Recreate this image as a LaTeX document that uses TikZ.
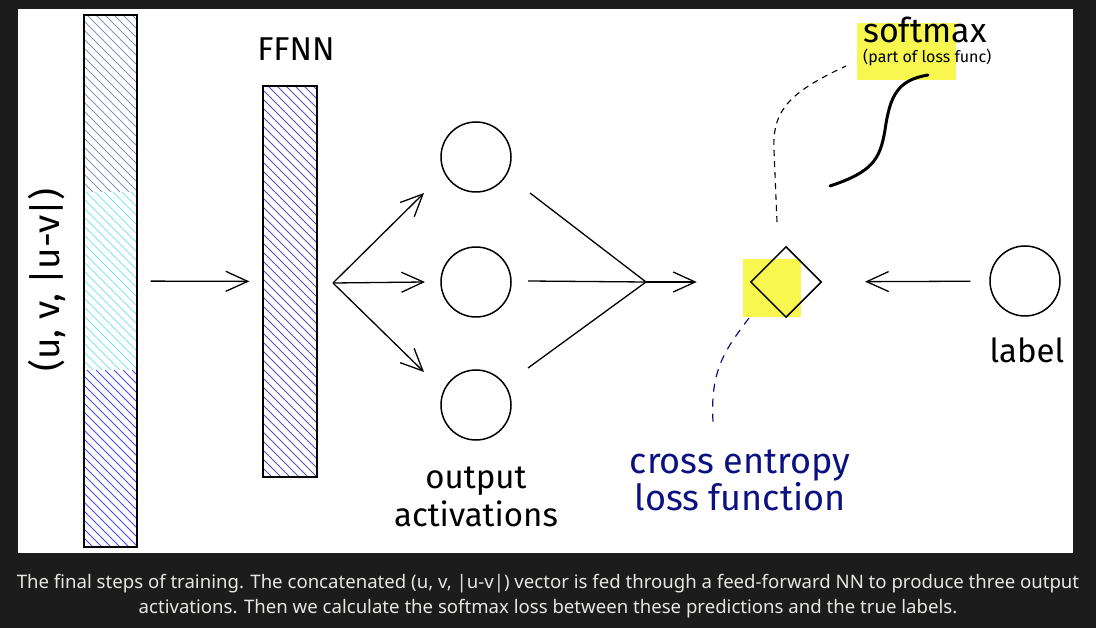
\documentclass[tikz,border=0pt]{standalone}
\usepackage{fontspec}
\setmainfont{Fira Sans}
\newfontfamily\capfont{Noto Sans}
\usetikzlibrary{arrows.meta,shapes.geometric}
\definecolor{bgdark}{HTML}{1C1C1C}
\definecolor{captext}{HTML}{E8E6E3}
\definecolor{hlyellow}{HTML}{F7F74F}
\definecolor{hatchgray}{HTML}{8294B8}
\definecolor{hatchcyan}{HTML}{80E6EE}
\definecolor{hatchblue}{HTML}{4A4AF0}
\definecolor{hatchffnn}{HTML}{5252B8}
\definecolor{navyink}{HTML}{0B1180}
\newcommand\hatchbox[5]{%
  \begin{scope}
    \clip (#1,#2) rectangle (#3,#4);
    \pgfmathsetmacro\hh{#4-#2}
    \pgfmathsetmacro\xs{#1-\hh}
    \pgfmathsetmacro\xn{#1-\hh+9}
    \foreach \xx in {\xs,\xn,...,#3} \draw[#5] (\xx,#2) -- ++(\hh,\hh);
  \end{scope}}
\begin{document}
\begin{tikzpicture}[x=1pt,y=-1pt,
  ink/.style={line width=1.3pt, black},
  arr/.style={ink, -{Straight Barb[length=22pt,width=20pt,line width=1.3pt]}},
  neuron/.style={circle, draw, line width=1.5pt, minimum size=70pt, inner sep=0pt},
  bar/.style={draw, line width=1.3pt, inner sep=0pt},
  hand/.style={font=\fontsize{33}{38}\selectfont, inner sep=0pt},
  hatchline/.style={line width=0.8pt},
  sketchdash/.style={dash pattern=on 6pt off 5pt}]
\useasboundingbox (0,0) rectangle (1096,628);
\fill[bgdark] (0,0) rectangle (1096,628);
\fill[white] (18,9) rectangle (1073,553);

% input vector bar
\hatchbox{84}{15}{137}{192}{hatchline,hatchgray}
\hatchbox{84}{192}{137}{370}{hatchline,hatchcyan}
\hatchbox{84}{370}{137}{547}{hatchline,hatchblue}
\node[bar, minimum width=53pt, minimum height=532pt] (bar1) at (110.5,281) {};
\node[hand, font=\fontsize{37}{40}\selectfont, rotate=90] (vec) at (47,280) {(u, v, |u-v|)};

% FFNN bar
\hatchbox{263}{86}{317}{477}{hatchline,hatchffnn}
\node[bar, minimum width=54pt, minimum height=391pt] (bar2) at (290,281.5) {};
\node[hand] (ffnn) at (296,49) {FFNN};

\draw[arr, shorten <=13pt, shorten >=13pt] (bar1) -- (bar2);

% output neurons
\node[neuron] (o1) at (476,157) {};
\node[neuron] (o2) at (476,282) {};
\node[neuron] (o3) at (476,405) {};
\node[hand, align=center] (outlab) at (476,497) {output\\activations};

\coordinate (fan) at (333,283);
\coordinate (f1) at (424,193);
\coordinate (f2) at (425,282);
\coordinate (f3) at (424,372);
\draw[arr] (fan) -- (f1);
\draw[arr] (fan) -- (f2);
\draw[arr] (fan) -- (f3);

\coordinate (c1) at (530,193);
\coordinate (c2) at (528,281);
\coordinate (c3) at (528,368);
\coordinate (conv) at (646,282);
\draw[ink] (c1) -- (conv);
\draw[ink] (c2) -- (conv);
\draw[ink] (c3) -- (conv);

% loss
\fill[hlyellow] (743,259) rectangle (801,317);
\node[diamond, draw, line width=1.5pt, minimum width=71pt, minimum height=71pt, inner sep=0pt] (loss) at (786,282) {};
\draw[arr, shorten >=53pt] (conv) -- (loss.west);

% label
\node[neuron] (lab) at (1025,281) {};
\node[hand] (labtxt) at (1027,350) {label};
\draw[arr, shorten <=19pt, shorten >=43pt] (lab) -- (loss);

% softmax
\fill[hlyellow] (857,23) rectangle (956,80);
\node[hand, font=\fontsize{34}{36}\selectfont, anchor=base west] (smax) at (863,43) {softmax};
\node[font=\fontsize{16}{18}\selectfont, inner sep=0pt, anchor=base west] (smaxsub) at (863,63) {(part of loss func)};
\draw[line width=3pt, line cap=round] (830,186) .. controls (872,172) and (880,160) .. (885,130) .. controls (890,95) and (898,80) .. (928,75);
\coordinate (d1) at (777,222);
\coordinate (d2) at (846,66);
\draw[ink, line width=1.1pt, sketchdash] (d1) -- (774,150) .. controls (772,110) and (790,92) .. (d2);

% cross entropy
\coordinate (n1) at (749,318);
\coordinate (n2) at (713,422);
\draw[navyink, line width=1.2pt, dash pattern=on 8pt off 7pt] (n1) .. controls (725,350) and (710,370) .. (n2);
\node[hand, font=\fontsize{36}{37}\selectfont, text=navyink, align=center] (ce) at (740,480) {cross entropy\\loss function};

% caption
\node[font=\capfont\fontsize{18.6}{25}\selectfont, text=captext, align=center] (cap) at (548,596)
  {The final steps of training. The concatenated (u, v, |u-v|) vector is fed through a feed-forward NN to produce three output\\activations. Then we calculate the softmax loss between these predictions and the true labels.};
\end{tikzpicture}
\end{document}
